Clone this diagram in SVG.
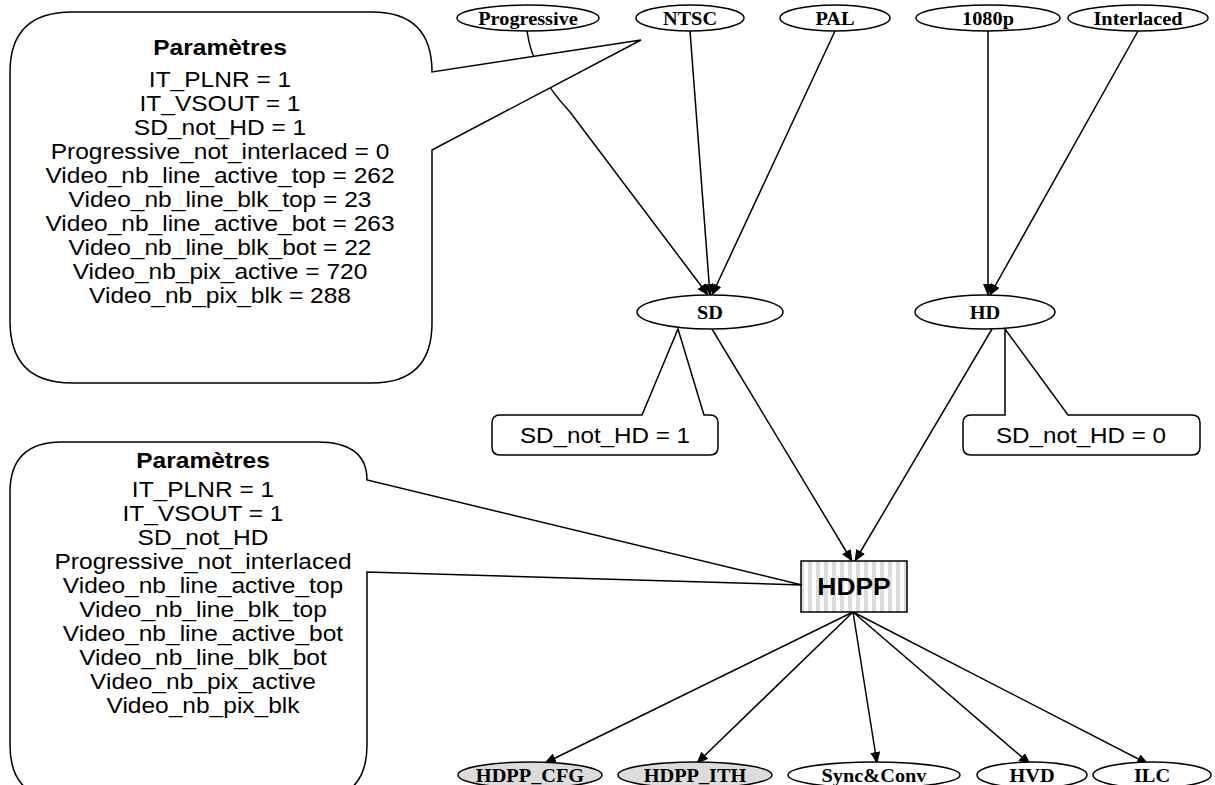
<svg xmlns="http://www.w3.org/2000/svg" width="1215" height="785" viewBox="0 0 1215 785">
<defs>
<pattern id="stripes" width="8" height="10" patternUnits="userSpaceOnUse">
<rect width="8" height="10" fill="#ffffff"/>
<rect x="0" width="4" height="10" fill="#dcdcdc"/>
</pattern>
<marker id="arr" markerWidth="12" markerHeight="10" refX="11" refY="5" orient="auto" markerUnits="userSpaceOnUse">
<path d="M0,0 L12,5 L0,10 Z" fill="#000"/>
</marker>
</defs>
<style>
.ell{fill:#fff;stroke:#000;stroke-width:1.5}
.gell{fill:#dcdcdc;stroke:#000;stroke-width:1.5}
.lbl{font-family:"Liberation Serif","Times New Roman",serif;font-weight:bold;font-size:19px;text-anchor:middle}
.txt{font-family:"Liberation Sans",Arial,sans-serif;font-size:22px;text-anchor:middle}
.bold{font-weight:bold}
.call{fill:#fff;stroke:#000;stroke-width:1.5}
.edge{stroke:#000;stroke-width:1.5;fill:none;marker-end:url(#arr)}
</style>
<rect width="1215" height="785" fill="#fff"/>

<g id="connectors">
<path class="edge" d="M527,31 C531,60 545,85 570,112 L708,295"/>
<line class="edge" x1="690" y1="31" x2="710" y2="295"/>
<line class="edge" x1="835" y1="31" x2="712" y2="295"/>
<line class="edge" x1="988" y1="31" x2="988" y2="295"/>
<line class="edge" x1="1138" y1="31" x2="990" y2="295"/>
<line class="edge" x1="712" y1="329" x2="852" y2="561"/>
<line class="edge" x1="992" y1="329" x2="855" y2="561"/>
<line class="edge" x1="853" y1="612" x2="545" y2="763"/>
<line class="edge" x1="853" y1="612" x2="697" y2="763"/>
<line class="edge" x1="853" y1="612" x2="877" y2="763"/>
<line class="edge" x1="853" y1="612" x2="1030" y2="764"/>
<line class="edge" x1="853" y1="612" x2="1148" y2="764"/>
</g>

<g id="n-progressive"><ellipse class="ell" cx="528" cy="18" rx="71" ry="13"/><text class="lbl" transform="translate(528,24.5) scale(1.07,1)">Progressive</text></g>
<g id="n-ntsc"><ellipse class="ell" cx="690" cy="18" rx="54" ry="13"/><text class="lbl" transform="translate(690,24.5) scale(1.07,1)">NTSC</text></g>
<g id="n-pal"><ellipse class="ell" cx="835" cy="18" rx="55" ry="13"/><text class="lbl" transform="translate(835,24.5) scale(1.07,1)">PAL</text></g>
<g id="n-1080p"><ellipse class="ell" cx="988" cy="18" rx="72" ry="13"/><text class="lbl" transform="translate(988,24.5) scale(1.07,1)">1080p</text></g>
<g id="n-interlaced"><ellipse class="ell" cx="1138" cy="18" rx="70" ry="13"/><text class="lbl" transform="translate(1138,24.5) scale(1.07,1)">Interlaced</text></g>

<g id="n-sd"><ellipse class="ell" cx="710" cy="312" rx="73" ry="17"/><text class="lbl" transform="translate(710,318.5) scale(1.07,1)">SD</text></g>
<g id="n-hd"><ellipse class="ell" cx="985" cy="312" rx="70" ry="17"/><text class="lbl" transform="translate(985,318.5) scale(1.07,1)">HD</text></g>

<g id="n-sd-note">
<path class="call" d="M500,415 L642,415 L678,329 L704,415 L710,415 Q718,415 718,423 L718,447 Q718,455 710,455 L500,455 Q492,455 492,447 L492,423 Q492,415 500,415 Z"/>
<text class="txt" transform="translate(605,443) scale(1.1,1)">SD_not_HD = 1</text>
</g>
<g id="n-hd-note">
<path class="call" d="M971,415 L1005,415 L1005,329 L1068,415 L1192,415 Q1200,415 1200,423 L1200,447 Q1200,455 1192,455 L971,455 Q963,455 963,447 L963,423 Q963,415 971,415 Z"/>
<text class="txt" transform="translate(1081,443) scale(1.1,1)">SD_not_HD = 0</text>
</g>

<g id="n-hdpp">
<rect x="801" y="561" width="106" height="51" fill="url(#stripes)" stroke="#000" stroke-width="1.5"/>
<text class="txt" transform="translate(854,595) scale(1.1,1)" style="font-size:24px;font-weight:bold">HDPP</text>
</g>

<g id="n-params1">
<path class="call" d="M72,12 L372,12 Q432,12 432,72 L641,40 L432,150 L432,323 Q432,383 372,383 L72,383 Q10,383 10,321 L10,72 Q10,12 72,12 Z"/>
<text class="txt bold" transform="translate(220,55) scale(1.115,1)">Paramètres</text>
<text class="txt" transform="translate(220,87) scale(1.115,1)">IT_PLNR = 1</text>
<text class="txt" transform="translate(220,111) scale(1.115,1)">IT_VSOUT = 1</text>
<text class="txt" transform="translate(220,135) scale(1.115,1)">SD_not_HD = 1</text>
<text class="txt" transform="translate(220,159) scale(1.115,1)">Progressive_not_interlaced = 0</text>
<text class="txt" transform="translate(220,183) scale(1.115,1)">Video_nb_line_active_top = 262</text>
<text class="txt" transform="translate(220,207) scale(1.115,1)">Video_nb_line_blk_top = 23</text>
<text class="txt" transform="translate(220,231) scale(1.115,1)">Video_nb_line_active_bot = 263</text>
<text class="txt" transform="translate(220,255) scale(1.115,1)">Video_nb_line_blk_bot = 22</text>
<text class="txt" transform="translate(220,279) scale(1.115,1)">Video_nb_pix_active = 720</text>
<text class="txt" transform="translate(220,303) scale(1.115,1)">Video_nb_pix_blk = 288</text>
</g>

<g id="n-params2">
<path class="call" d="M62,442 L317,442 Q367,442 367,480 L802,585 L367,572 L367,745 Q367,800 312,800 L65,800 Q10,800 10,745 L10,492 Q10,442 62,442 Z"/>
<text class="txt bold" transform="translate(203,468) scale(1.115,1)">Paramètres</text>
<text class="txt" transform="translate(203,497) scale(1.115,1)">IT_PLNR = 1</text>
<text class="txt" transform="translate(203,521) scale(1.115,1)">IT_VSOUT = 1</text>
<text class="txt" transform="translate(203,545) scale(1.115,1)">SD_not_HD</text>
<text class="txt" transform="translate(203,569) scale(1.115,1)">Progressive_not_interlaced</text>
<text class="txt" transform="translate(203,593) scale(1.115,1)">Video_nb_line_active_top</text>
<text class="txt" transform="translate(203,617) scale(1.115,1)">Video_nb_line_blk_top</text>
<text class="txt" transform="translate(203,641) scale(1.115,1)">Video_nb_line_active_bot</text>
<text class="txt" transform="translate(203,665) scale(1.115,1)">Video_nb_line_blk_bot</text>
<text class="txt" transform="translate(203,689) scale(1.115,1)">Video_nb_pix_active</text>
<text class="txt" transform="translate(203,713) scale(1.115,1)">Video_nb_pix_blk</text>
</g>

<g id="n-hdpp-cfg"><ellipse class="gell" cx="530" cy="775" rx="72" ry="13"/><text class="lbl" transform="translate(530,781.5) scale(1.07,1)">HDPP_CFG</text></g>
<g id="n-hdpp-ith"><ellipse class="gell" cx="695" cy="775" rx="77" ry="13"/><text class="lbl" transform="translate(695,781.5) scale(1.07,1)">HDPP_ITH</text></g>
<g id="n-sync"><ellipse class="ell" cx="874" cy="775" rx="86" ry="13"/><text class="lbl" transform="translate(874,781.5) scale(1.07,1)">Sync&amp;Conv</text></g>
<g id="n-hvd"><ellipse class="ell" cx="1032" cy="775" rx="55" ry="13"/><text class="lbl" transform="translate(1032,781.5) scale(1.07,1)">HVD</text></g>
<g id="n-ilc"><ellipse class="ell" cx="1152" cy="775" rx="59" ry="13"/><text class="lbl" transform="translate(1152,781.5) scale(1.07,1)">ILC</text></g>
</svg>
